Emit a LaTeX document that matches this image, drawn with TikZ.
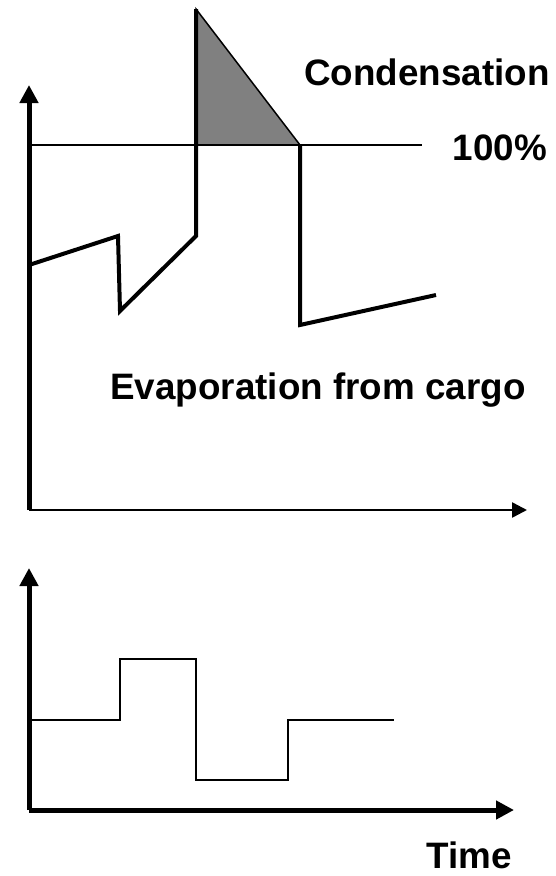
\documentclass[tikz,border=0pt]{standalone}
\usepackage{fontspec}
\setmainfont{Liberation Sans}
\usetikzlibrary{arrows.meta}

\begin{document}
\begin{tikzpicture}[x=1pt,y=-1pt,>={Triangle[length=18pt,width=18pt]},
  axis/.style={->,line width=5pt},
  thin axis/.style={->,>={Triangle[length=15pt,width=15pt]},line width=2.5pt},
  curve/.style={line width=4pt},
  level/.style={line width=1.5pt},
  label/.style={inner sep=0pt,anchor=base,font=\fontsize{36.8}{40}\selectfont\bfseries}]
\useasboundingbox (0,0) rectangle (556,876);
% upper plot
\coordinate (o1) at (29,510);
\coordinate (y1) at (29,85);
\coordinate (x1) at (527,510);
\coordinate (l1) at (29,145);
\coordinate (l2) at (422,145);
\coordinate (peak) at (196,9);
\coordinate (rise) at (196,145);
\coordinate (drop) at (300,145);
\filldraw[fill=gray,level] (peak) -- (rise) -- (drop) -- cycle;
\draw[level] (l1) -- (l2);
\draw[curve] (29,265) -- (118,236) -- (120,311) -- (196,236) -- (peak);
\draw[curve] (drop) -- (300,325) -- (436,295);
\draw[thin axis] (o1) -- (x1);
\draw[axis] (o1) -- (y1);
\node[label] (cond) at (427,85) {Condensation};
\node[label] (full) at (500,160) {100\%};
\node[label] (evap) at (318,399) {Evaporation from cargo};
% lower plot
\coordinate (o2) at (29,810);
\coordinate (y2) at (29,568);
\coordinate (x2) at (514,810);
\draw[level] (29,720) -- (120,720) -- (120,659) -- (196,659) -- (196,780)
  -- (288,780) -- (288,720) -- (394,720);
\draw[axis] (o2) -- (x2);
\draw[axis] (o2) -- (y2);
\node[label] (time) at (469,868) {Time};
\end{tikzpicture}
\end{document}
